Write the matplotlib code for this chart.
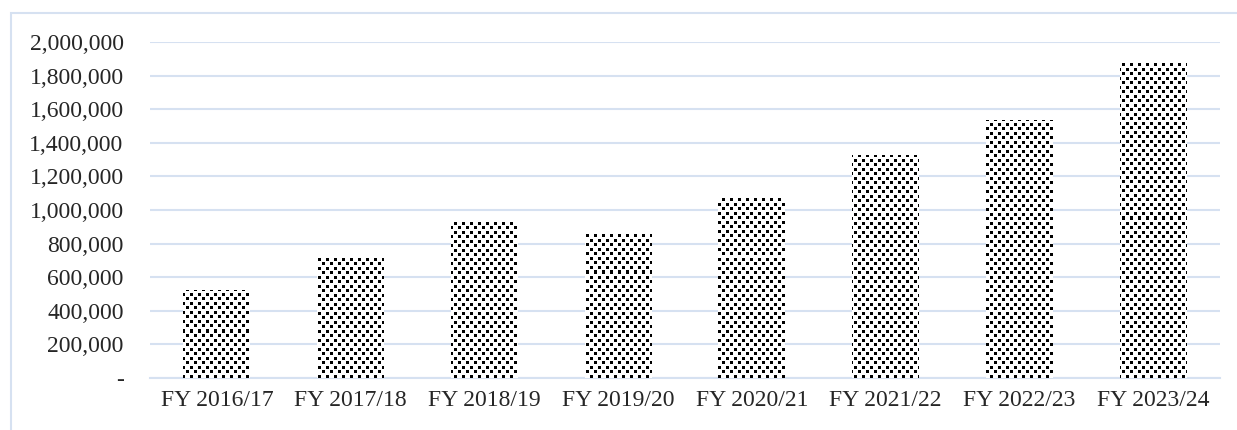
import numpy as np
import matplotlib
matplotlib.use("Agg")
import matplotlib.pyplot as plt
from matplotlib.patches import Rectangle
from matplotlib.ticker import FuncFormatter

years = ["FY 2016/17", "FY 2017/18", "FY 2018/19", "FY 2019/20",
         "FY 2020/21", "FY 2021/22", "FY 2022/23", "FY 2023/24"]
values = [524000, 726000, 934000, 865000, 1073000, 1327000, 1535000, 1881000]

plt.rcParams['font.family'] = 'Liberation Serif'
plt.rcParams['font.size'] = 17

fig = plt.figure(figsize=(12.37, 4.30), dpi=100)
ax = fig.add_axes([150 / 1237, 1 - 378 / 430, 1070 / 1237, 336 / 430])

grid_col = "#d6e1f1"
x = np.arange(len(years))
bars = ax.bar(x, values, width=0.5, color="white", edgecolor="none", zorder=2)

# staggered square texture (3px squares), clipped to each bar
tile = np.zeros((9, 8), dtype=int)
tile[0:3, 0:3] = 1
tile[5:8, 4:7] = 1
tex = np.tile(tile, (336 // 9 + 2, 1070 // 8 + 2))[:336, :1070]
tex = tex[::-1]
for b in bars:
    im = ax.imshow(1 - tex, cmap="gray", vmin=0, vmax=1, interpolation="nearest",
                   extent=(-0.5, 7.5, 0, 2000000), aspect="auto", zorder=3)
    im.set_clip_path(b)

ax.set_xlim(-0.5, 7.5)
ax.set_ylim(0, 2000000)
ax.set_yticks(np.arange(0, 2000001, 200000))
ax.yaxis.set_major_formatter(FuncFormatter(lambda v, p: "-" if v == 0 else f"{int(v):,}"))
ax.set_xticks(x)
ax.set_xticklabels(years)
ax.grid(axis="y", color=grid_col, linewidth=1.5, zorder=0)
ax.set_axisbelow(True)
for s in ["top", "right", "left"]:
    ax.spines[s].set_visible(False)
ax.spines["bottom"].set_color(grid_col)
ax.spines["bottom"].set_linewidth(1.5)
ax.tick_params(axis="both", length=0, colors="#262626")
ax.tick_params(axis="y", pad=19)
ax.tick_params(axis="x", pad=9)

# chart border
fig.patches.append(Rectangle((11 / 1237, -0.1), 1.1, 1 - 13 / 430 + 0.1,
                             transform=fig.transFigure, fill=False,
                             edgecolor=grid_col, linewidth=1.5))

fig.savefig("out.png", dpi=100)
